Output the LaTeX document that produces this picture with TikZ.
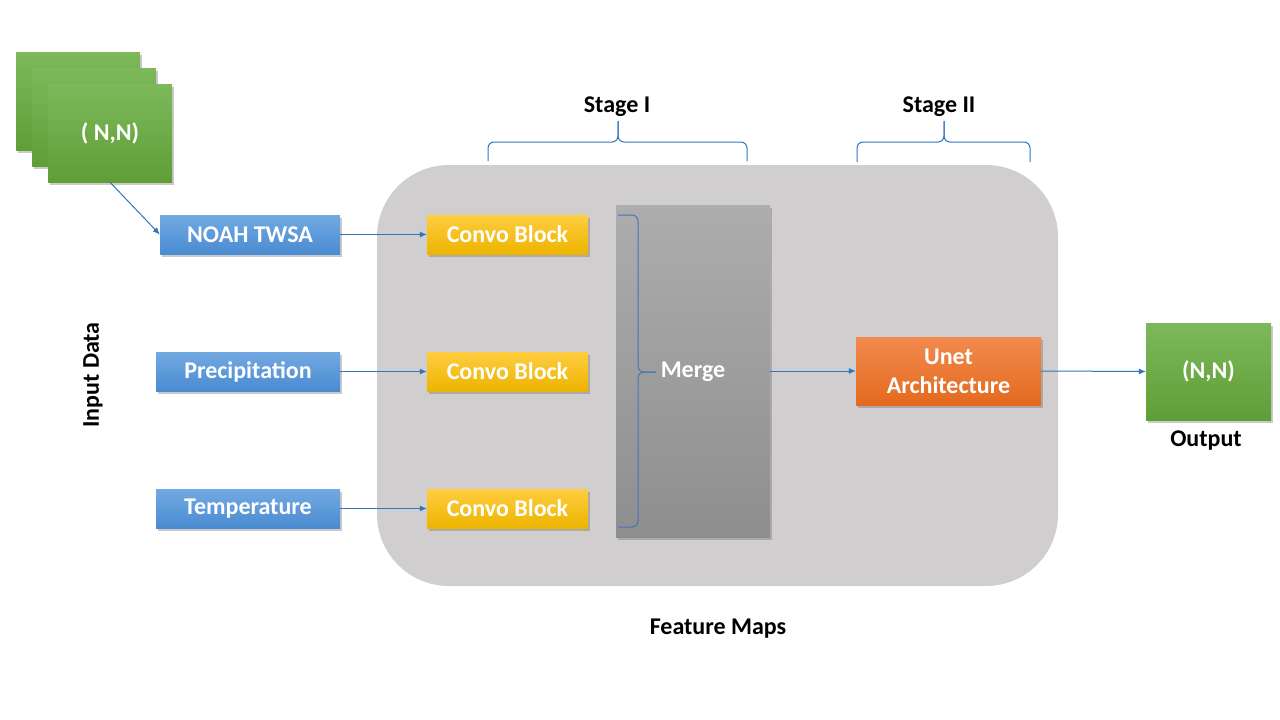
\documentclass[tikz,border=0pt]{standalone}
\usepackage{fontspec}
\setmainfont{Carlito}
\usetikzlibrary{arrows.meta,shadows}
\definecolor{panel}{HTML}{D0CECE}
\definecolor{bluetop}{HTML}{72A9E2}
\definecolor{bluebot}{HTML}{4A8BD1}
\definecolor{greentop}{HTML}{7DB85A}
\definecolor{greenbot}{HTML}{5F9E37}
\definecolor{yeltop}{HTML}{FFCD40}
\definecolor{yelbot}{HTML}{EDB400}
\definecolor{ortop}{HTML}{F28A4E}
\definecolor{orbot}{HTML}{E36A1E}
\definecolor{mergetop}{HTML}{ADADAD}
\definecolor{mergebot}{HTML}{8E8E8E}
\definecolor{linkblue}{HTML}{2F75BD}
\definecolor{bracecol}{HTML}{4A72B8}
\definecolor{stagebrace}{HTML}{2F75BD}
\tikzset{
  txt/.style={font=\fontsize{24}{28}\selectfont\bfseries, inner sep=0pt},
  box/.style={txt, draw=none, text=white, align=center,
    drop shadow={shadow xshift=1.5pt, shadow yshift=-2.5pt, opacity=0.35, fill=black!60}},
  bluebox/.style={box, top color=bluetop, bottom color=bluebot},
  greenbox/.style={box, top color=greentop, bottom color=greenbot},
  yelbox/.style={box, top color=yeltop, bottom color=yelbot},
  orbox/.style={box, top color=ortop, bottom color=orbot},
  link/.style={draw=linkblue, line width=1pt, -{Latex[length=7pt,width=6pt]}},
  lab/.style={txt, text=black},
  bracestyle/.style={line width=1pt, rounded corners=6pt},
}
\begin{document}
\begin{tikzpicture}[x=1pt,y=-1pt]
\useasboundingbox (0,0) rectangle (1280,720);
% panel
\fill[panel, rounded corners=72pt] (377,165) rectangle (1058,586);
% input stack
\node[greenbox, minimum width=124pt, minimum height=98pt] (g1) at (78,101) {};
\node[greenbox, minimum width=124pt, minimum height=98pt] (g2) at (94,117) {};
\node[greenbox, minimum width=124pt, minimum height=98pt] (g3) at (110,133) {( N,N)};
% inputs
\node[bluebox, minimum width=180pt, minimum height=39pt] (noah) at (250,234.5) {NOAH TWSA};
\node[bluebox, minimum width=184pt, minimum height=39pt] (prec) at (248,371.5) {Precipitation};
\node[bluebox, minimum width=184pt, minimum height=39pt] (temp) at (248,508.5) {Temperature};
\node[lab, rotate=90] (inp) at (93,375) {Input Data};
% convo
\node[yelbox, minimum width=161pt, minimum height=39pt] (c1) at (507.5,234.5) {Convo Block};
\node[yelbox, minimum width=161pt, minimum height=39pt] (c2) at (507.5,371.5) {Convo Block};
\node[yelbox, minimum width=161pt, minimum height=39pt] (c3) at (507.5,508.5) {Convo Block};
% merge
\node[box, top color=mergetop, bottom color=mergebot, minimum width=154pt, minimum height=332pt] (merge) at (693,371) {};
\node[txt, text=white] (mergetxt) at (693,372) {Merge};
\coordinate (mbt) at (618,215);
\coordinate (mbb) at (618,527);
\coordinate (mspine) at (638,372);
\coordinate (mtip) at (656,372);
\draw[bracestyle, draw=bracecol] (mbt) -| (mspine) -- (mtip);
\draw[bracestyle, draw=bracecol] (mbb) -| (mspine) -- (mtip);
% unet
\node[orbox, minimum width=185pt, minimum height=68pt, font=\fontsize{24}{29}\selectfont\bfseries] (unet) at (948.5,371) {Unet\\Architecture};
% output
\node[greenbox, minimum width=125pt, minimum height=97pt] (out) at (1208.5,371.5) {(N,N)};
\node[lab] (outlab) at (1206,441) {Output};
\node[lab] (fm) at (718,629) {Feature Maps};
% stages
\node[lab] (s1) at (617,107) {Stage I};
\node[lab] (s2) at (939,107) {Stage II};
\coordinate (s1a) at (488,161);
\coordinate (s1b) at (747,161);
\coordinate (s1m) at (618,142);
\coordinate (s1t) at (618,121);
\coordinate (s2a) at (857,162);
\coordinate (s2b) at (1030,162);
\coordinate (s2m) at (944,142);
\coordinate (s2t) at (944,121);
\draw[bracestyle, draw=stagebrace] (s1a) |- (s1m) -- (s1t);
\draw[bracestyle, draw=stagebrace] (s1b) |- (s1m) -- (s1t);
\draw[bracestyle, draw=stagebrace] (s2a) |- (s2m) -- (s2t);
\draw[bracestyle, draw=stagebrace] (s2b) |- (s2m) -- (s2t);
% links
\draw[link] (g3.south) -- (noah.west);
\draw[link] (noah.east) -- (c1.west);
\draw[link] (prec.east) -- (c2.west);
\draw[link] (temp.east) -- (c3.west);
\draw[link] (merge.east) -- (unet.west);
\draw[link] (unet.east) -- (out.west);
\end{tikzpicture}
\end{document}
